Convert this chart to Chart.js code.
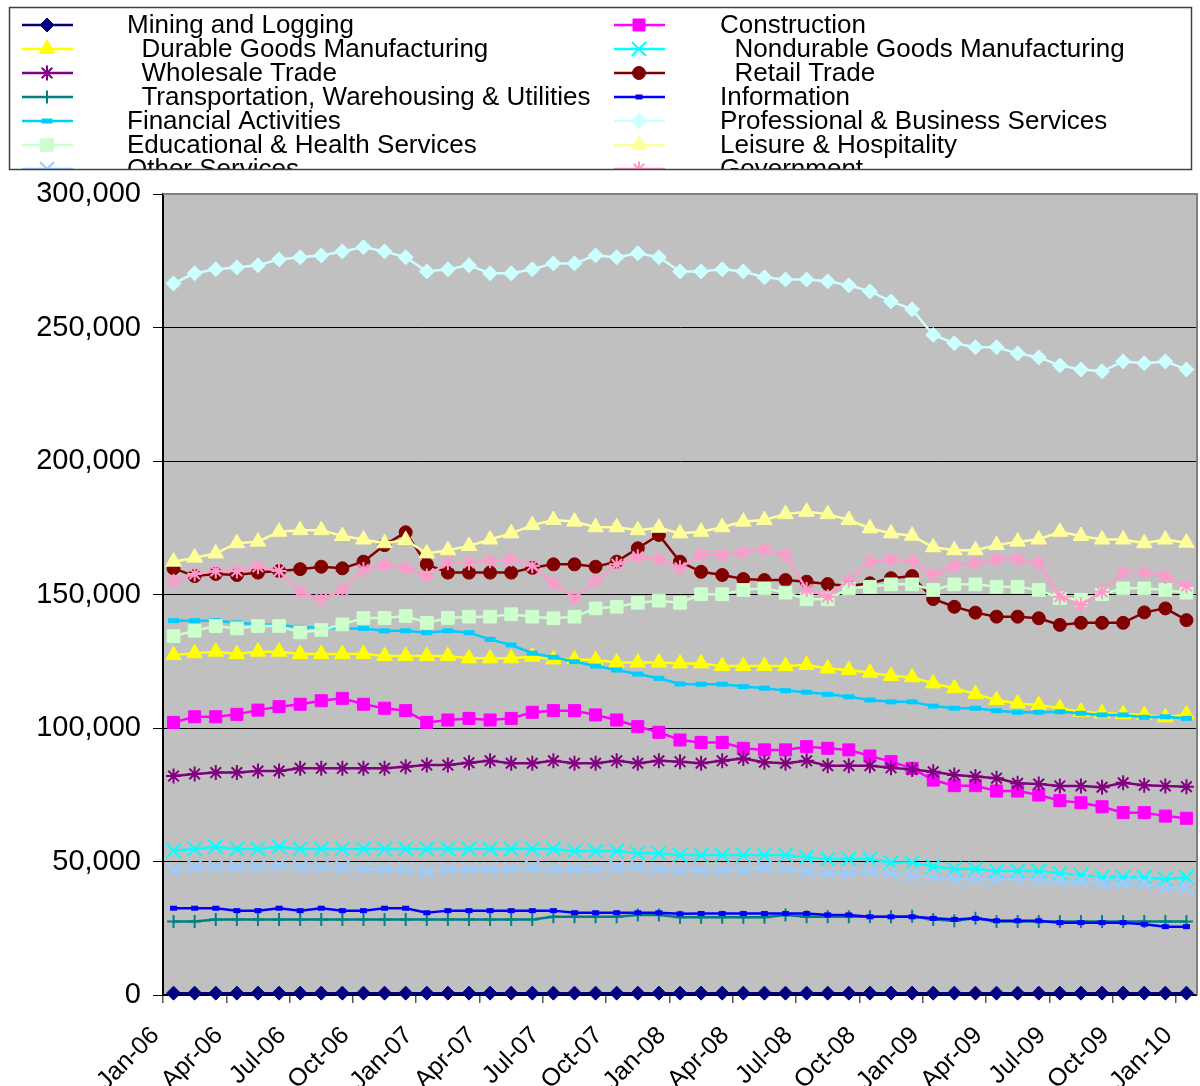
<!DOCTYPE html>
<html>
<head>
<meta charset="utf-8">
<script src="https://cdn.jsdelivr.net/npm/chart.js@4/dist/chart.umd.min.js"></script>
<style>
  html, body { margin: 0; padding: 0; background: #fff; }
  #wrap { width: 1200px; height: 1086px; position: relative; }
</style>
</head>
<body>
<div id="wrap"><canvas id="chart"></canvas></div>
<script>
// Month categories, Jan-06 .. Jan-10
const months = [
  "Jan-06","Feb-06","Mar-06","Apr-06","May-06","Jun-06","Jul-06","Aug-06","Sep-06","Oct-06","Nov-06","Dec-06",
  "Jan-07","Feb-07","Mar-07","Apr-07","May-07","Jun-07","Jul-07","Aug-07","Sep-07","Oct-07","Nov-07","Dec-07",
  "Jan-08","Feb-08","Mar-08","Apr-08","May-08","Jun-08","Jul-08","Aug-08","Sep-08","Oct-08","Nov-08","Dec-08",
  "Jan-09","Feb-09","Mar-09","Apr-09","May-09","Jun-09","Jul-09","Aug-09","Sep-09","Oct-09","Nov-09","Dec-09",
  "Jan-10"
];

const yTicks = [0, 50000, 100000, 150000, 200000, 250000, 300000];

// Series, in legend order
const mining = [700,700,700,700,700,700,700,700,700,700,700,700,700,700,700,700,700,700,700,700,700,700,700,700,700,
  700,700,700,700,700,700,700,700,700,700,700,700,700,700,700,700,700,700,700,700,700,700,700,700];
const construction = [102100,104200,104200,105100,106700,108000,108900,110200,111100,108900,107400,106500,102100,103000,103600,103000,103600,105900,106500,106500,104900,103000,100500,98400,95500,
  94600,94600,92400,91800,91800,93000,92400,91800,89500,87400,84900,80500,78400,78400,76400,76400,74900,72800,72000,70500,68300,68300,67000,66200];
const durable = [127300,128000,128600,127700,128600,128600,127700,127700,127700,127700,127000,127000,127000,127000,126100,126100,126100,126700,125700,125700,125500,124500,124500,124500,124200,
  124200,123200,123200,123200,123200,123600,122300,121700,120700,119500,119000,116700,114900,112700,110500,109200,108600,107400,106100,105500,105200,104900,104000,105100];
const nondurable = [54000,54700,55500,54700,54700,55500,54700,54700,54700,54700,54700,54700,54700,54700,54700,54700,54700,54700,54700,53900,53900,53900,53100,53100,52400,
  52400,52400,52400,52400,52400,51600,50900,50900,50900,49600,49600,48100,47200,47200,46400,46400,46400,45600,44900,44100,44100,44100,43400,44100];
const wholesale = [82000,82800,83300,83300,83900,83900,84900,84900,84900,84900,84900,85500,86100,86100,87000,87700,86800,86800,87700,86800,86800,87700,86800,87700,87400,
  86800,87700,88600,87200,86800,87700,85900,85900,85900,85100,84500,83600,82400,81800,81200,79300,79000,78300,78300,77800,79500,78600,78300,78000];
const retail = [159800,156900,157700,157300,158200,158800,159500,160400,159800,162300,168500,173300,161300,158200,158200,158200,158200,160000,161300,161300,160400,162300,167300,172300,162300,
  158500,157300,155800,155400,155400,154800,153900,153200,154200,156100,156900,148300,145400,143200,141700,141700,141100,138600,139400,139400,139400,143300,144800,140400];
const transport = [27500,27500,28300,28300,28300,28300,28300,28300,28300,28300,28300,28300,28300,28300,28300,28300,28300,28300,29300,29300,29300,29300,30000,30000,29100,
  29100,29100,29100,29100,30000,29300,29300,29300,29300,29300,29500,28300,27800,28700,27500,27500,27500,27500,27500,27500,27500,27500,27500,27500];
const information = [32500,32500,32500,31600,31600,32500,31600,32500,31600,31600,32500,32500,30800,31600,31600,31600,31600,31600,31600,30800,30800,30800,30800,30800,30400,
  30500,30500,30500,30500,30500,30500,30000,30000,29300,29300,29300,28700,28300,28700,27800,27800,27800,27100,27100,27100,27100,26500,25600,25600];
const financial = [140200,140200,140200,139400,138900,138600,137700,137700,137300,137300,136400,136400,135700,136400,135700,133200,131100,128000,126500,124800,123200,121700,120200,118600,116500,
  116400,116400,115500,114900,114000,113400,112600,111700,110500,109800,109800,108200,107400,107400,106500,105900,105900,106100,105500,104900,104900,104000,104200,103600];
const professional = [266500,270300,271800,272500,273300,275500,276300,277000,278500,280100,278500,276300,271000,271800,273300,270300,270300,271800,274000,274000,277000,276300,277800,276300,271000,
  271000,271800,271000,268800,268000,268000,267300,265800,263500,259800,256800,247200,244100,242600,242600,240300,238800,235800,234300,233600,237300,236600,237300,234300];
const education = [134400,136400,138200,137300,138200,138200,135800,136700,138800,141200,141200,141900,139400,141200,141700,141700,142600,141700,141100,141700,144800,145400,146900,147700,146900,
  150100,150100,151700,152300,150700,148200,148200,152300,152900,153800,153800,151700,153800,153800,152900,152900,151700,148600,148000,150100,152300,152300,151700,150700];
const leisure = [162300,163800,165400,169200,169800,173500,174100,174100,171900,170600,169200,170400,165400,166600,168200,170600,172900,176000,177900,177300,175200,175200,174100,175000,172900,
  173500,175200,177300,177900,180100,181000,180100,177900,174800,172900,172000,167700,166600,166600,168500,169800,170600,173500,171900,170600,170600,169200,170600,169400];
const other = [46800,47800,47800,47800,47800,48700,47800,47800,47800,47100,47100,47100,46200,47100,47100,47100,47100,47800,47100,47100,47100,47800,47800,47100,46800,
  46800,46800,46800,47800,47100,46400,45600,45600,46400,45600,44700,44100,43400,43400,43400,43400,43400,42700,42700,41800,41800,41800,40300,40300];
const government = [155000,157700,158800,158800,160400,158800,151000,148200,151700,159400,161000,159800,156900,161900,161900,162600,163200,160800,154200,148800,155000,161300,164100,163200,160000,
  164800,164800,165600,166900,164800,151900,149200,155400,162300,163200,162500,157300,160800,161700,163200,163200,161900,149200,146100,151000,158200,158200,156700,153200];

const seriesNames = [
  "Mining and Logging", "Construction",
  "  Durable Goods Manufacturing", "  Nondurable Goods Manufacturing",
  "  Wholesale Trade", "  Retail Trade",
  "  Transportation, Warehousing & Utilities", "Information",
  "Financial Activities", "Professional & Business Services",
  "Educational & Health Services", "Leisure & Hospitality",
  "Other Services", "Government"
];
const seriesData = [mining, construction, durable, nondurable, wholesale, retail, transport,
  information, financial, professional, education, leisure, other, government];

// look of each series (Excel palette + marker)
const looks = [
  { color: "#000080", point: "rectRot", r: 7, bw: 1 },
  { color: "#FF00FF", point: "rect", r: 8.5, bw: 1 },
  { color: "#FFFF00", point: "triangle", r: 9, bw: 1 },
  { color: "#00FFFF", point: "crossRot", r: 10, bw: 2 },
  { color: "#800080", point: "star", r: 7.5, bw: 2 },
  { color: "#800000", point: "circle", r: 6.5, bw: 1 },
  { color: "#008080", point: "cross", r: 6.5, bw: 2 },
  { color: "#0000FF", point: "line", r: 3.5, bw: 5 },
  { color: "#00CCFF", point: "line", r: 5.5, bw: 5 },
  { color: "#CCFFFF", point: "rectRot", r: 7.5, bw: 1 },
  { color: "#CCFFCC", point: "rect", r: 9, bw: 1 },
  { color: "#FFFF99", point: "triangle", r: 9, bw: 1 },
  { color: "#99CCFF", point: "crossRot", r: 10, bw: 2 },
  { color: "#FF99CC", point: "star", r: 7.5, bw: 2 }
];

const FONT = '"Liberation Sans", Arial, sans-serif';

const datasets = seriesData.map((d, i) => ({
  label: seriesNames[i].trim(),
  data: d,
  borderColor: looks[i].color,
  backgroundColor: looks[i].color,
  borderWidth: 2.5,
  pointStyle: looks[i].point,
  pointRadius: looks[i].r,
  pointHoverRadius: looks[i].r,
  pointBackgroundColor: looks[i].color,
  pointBorderColor: looks[i].color,
  pointBorderWidth: looks[i].bw,
  tension: 0,
  clip: false,
  order: seriesData.length - i   // later series drawn on top, like Excel
}));

// grey plot area + frame, and the boxed two-column legend
const excelLook = {
  id: "excelLook",
  beforeDraw(chart) {
    const { ctx, chartArea: a } = chart;
    ctx.save();
    ctx.fillStyle = "#C0C0C0";
    ctx.fillRect(a.left, a.top, a.right - a.left, a.bottom - a.top);
    ctx.restore();
  },
  beforeDatasetsDraw(chart) {
    const { ctx, chartArea: a } = chart;
    ctx.save();
    ctx.strokeStyle = "#808080";
    ctx.lineWidth = 2;
    ctx.beginPath();
    ctx.moveTo(a.left, a.top);
    ctx.lineTo(a.right, a.top);
    ctx.lineTo(a.right, a.bottom);
    ctx.stroke();
    ctx.restore();
  },
  afterDraw(chart) {
    const ctx = chart.ctx;
    const box = { x: 10, y: 8, w: 1181, h: 161 };
    ctx.save();
    ctx.beginPath();
    ctx.rect(box.x, box.y, box.w, box.h);
    ctx.clip();
    ctx.font = "26px " + FONT;
    ctx.textBaseline = "middle";
    ctx.textAlign = "left";
    seriesNames.forEach((name, i) => {
      const col = i % 2;
      const row = Math.floor(i / 2);
      const y = 25 + row * 24;
      const x0 = col ? 614 : 22;
      const lk = looks[i];
      ctx.strokeStyle = lk.color;
      ctx.fillStyle = lk.color;
      ctx.lineWidth = 2.5;
      ctx.beginPath();
      ctx.moveTo(x0, y);
      ctx.lineTo(x0 + 51, y);
      ctx.stroke();
      ctx.lineWidth = lk.bw;
      if (Chart.helpers && Chart.helpers.drawPoint) {
        Chart.helpers.drawPoint(ctx, { pointStyle: lk.point, radius: lk.r, rotation: 0, borderWidth: lk.bw }, x0 + 25, y);
      }
      ctx.fillStyle = "#000";
      ctx.fillText(name, col ? 720 : 127, y + 1);
    });
    ctx.restore();
    ctx.save();
    ctx.strokeStyle = "#404040";
    ctx.lineWidth = 1.5;
    ctx.strokeRect(box.x - 0.5, box.y - 0.5, box.w + 1, box.h + 1);
    ctx.restore();
  }
};

new Chart(document.getElementById("chart"), {
  type: "line",
  data: { labels: months, datasets: datasets },
  plugins: [excelLook],
  options: {
    responsive: true,
    maintainAspectRatio: false,
    animation: false,
    layout: { autoPadding: false, padding: { top: 194, right: 3, left: 0, bottom: 0 } },
    plugins: { legend: { display: false }, tooltip: { enabled: false } },
    scales: {
      x: {
        type: "category",
        offset: true,
        afterFit(scale) {
          scale.height = 91;
          scale.paddingLeft = 0;
          scale.paddingRight = 0;
        },
        grid: {
          offset: true,
          drawOnChartArea: false,
          tickLength: 8,
          lineWidth: 1.5,
          color: (c) => (c.index % 3 === 0 ? "#555" : "rgba(0,0,0,0)")
        },
        border: { color: "#000", width: 1.5 },
        ticks: {
          autoSkip: false,
          minRotation: 45,
          maxRotation: 45,
          labelOffset: -18,
          padding: 18,
          color: "#000",
          font: { family: FONT, size: 25 },
          callback: (v, i) => (i % 3 === 0 ? months[i] : "")
        }
      },
      y: {
        min: yTicks[0],
        max: yTicks[yTicks.length - 1],
        afterFit(scale) {
          scale.width = 163;
          scale.paddingTop = 0;
          scale.paddingBottom = 0;
        },
        afterBuildTicks(scale) { scale.ticks = yTicks.map((v) => ({ value: v })); },
        grid: {
          tickLength: 10,
          lineWidth: 1,
          tickColor: "#000",
          color: (c) => (c.tick && c.tick.value === 300000 ? "rgba(0,0,0,0)" : "#000")
        },
        border: { color: "#000", width: 2 },
        ticks: {
          padding: 12,
          color: "#000",
          font: { family: FONT, size: 29 },
          callback: (v) => v.toLocaleString("en-US")
        }
      }
    }
  }
});
</script>
</body>
</html>
